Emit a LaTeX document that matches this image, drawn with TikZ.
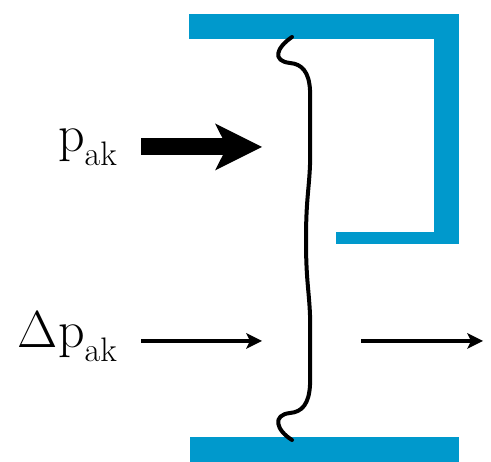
\documentclass[tikz,border=0pt]{standalone}
\usepackage{fontspec}
\usepackage{tikz}
\usetikzlibrary{positioning, arrows.meta}
\definecolor{wallblue}{RGB}{0,153,204}

\begin{document}
\begin{tikzpicture}[x=1pt, y=-1pt,
    wall/.style={fill=wallblue},
    flow/.style={line width=4.5pt, -{Stealth[length=16pt, width=16pt, inset=4pt, line width=0pt]}},
    bigflow/.style={line width=17pt, -{Stealth[length=47pt, width=47pt, inset=12pt, line width=0pt]}},
    lbl/.style={font=\fontsize{52}{60}\selectfont, inner sep=0pt, anchor=base east}]
  \useasboundingbox (0,0) rectangle (491,462);
  % walls
  \fill[wall] (189,14) rectangle (459,39);
  \fill[wall] (434,14) rectangle (459,244);
  \fill[wall] (336,232) rectangle (459,244);
  \fill[wall] (190,437) rectangle (459,462);
  % labels
  \node[lbl] (pak) at (117,152) {p\raisebox{-14pt}{\fontsize{34}{40}\selectfont ak}};
  \node[lbl] (dpak) at (117,348) {Δp\raisebox{-14pt}{\fontsize{34}{40}\selectfont ak}};
  \coordinate (big in) at (141,147);
  \coordinate (big out) at (262,147);
  \coordinate (small in) at (141,341);
  \coordinate (small out) at (262,341);
  \coordinate (pass in) at (361,341);
  \coordinate (pass out) at (483,341);
  \draw[bigflow] (big in) -- (big out);
  \draw[flow] (small in) -- (small out);
  \draw[flow] (pass in) -- (pass out);
  % brace
  \draw[line width=4pt, line cap=round, line join=round]
    (292,37) .. controls (276,48) and (272,61) .. (290,63)
    .. controls (302,64) and (309,72) .. (310,90)
    -- (310,165) .. controls (309,190) and (306,200) .. (306,240)
    .. controls (306,280) and (309,290) .. (310,315)
    -- (310,385) .. controls (309,404) and (302,412) .. (290,413)
    .. controls (272,415) and (276,430) .. (292,440);
\end{tikzpicture}
\end{document}
